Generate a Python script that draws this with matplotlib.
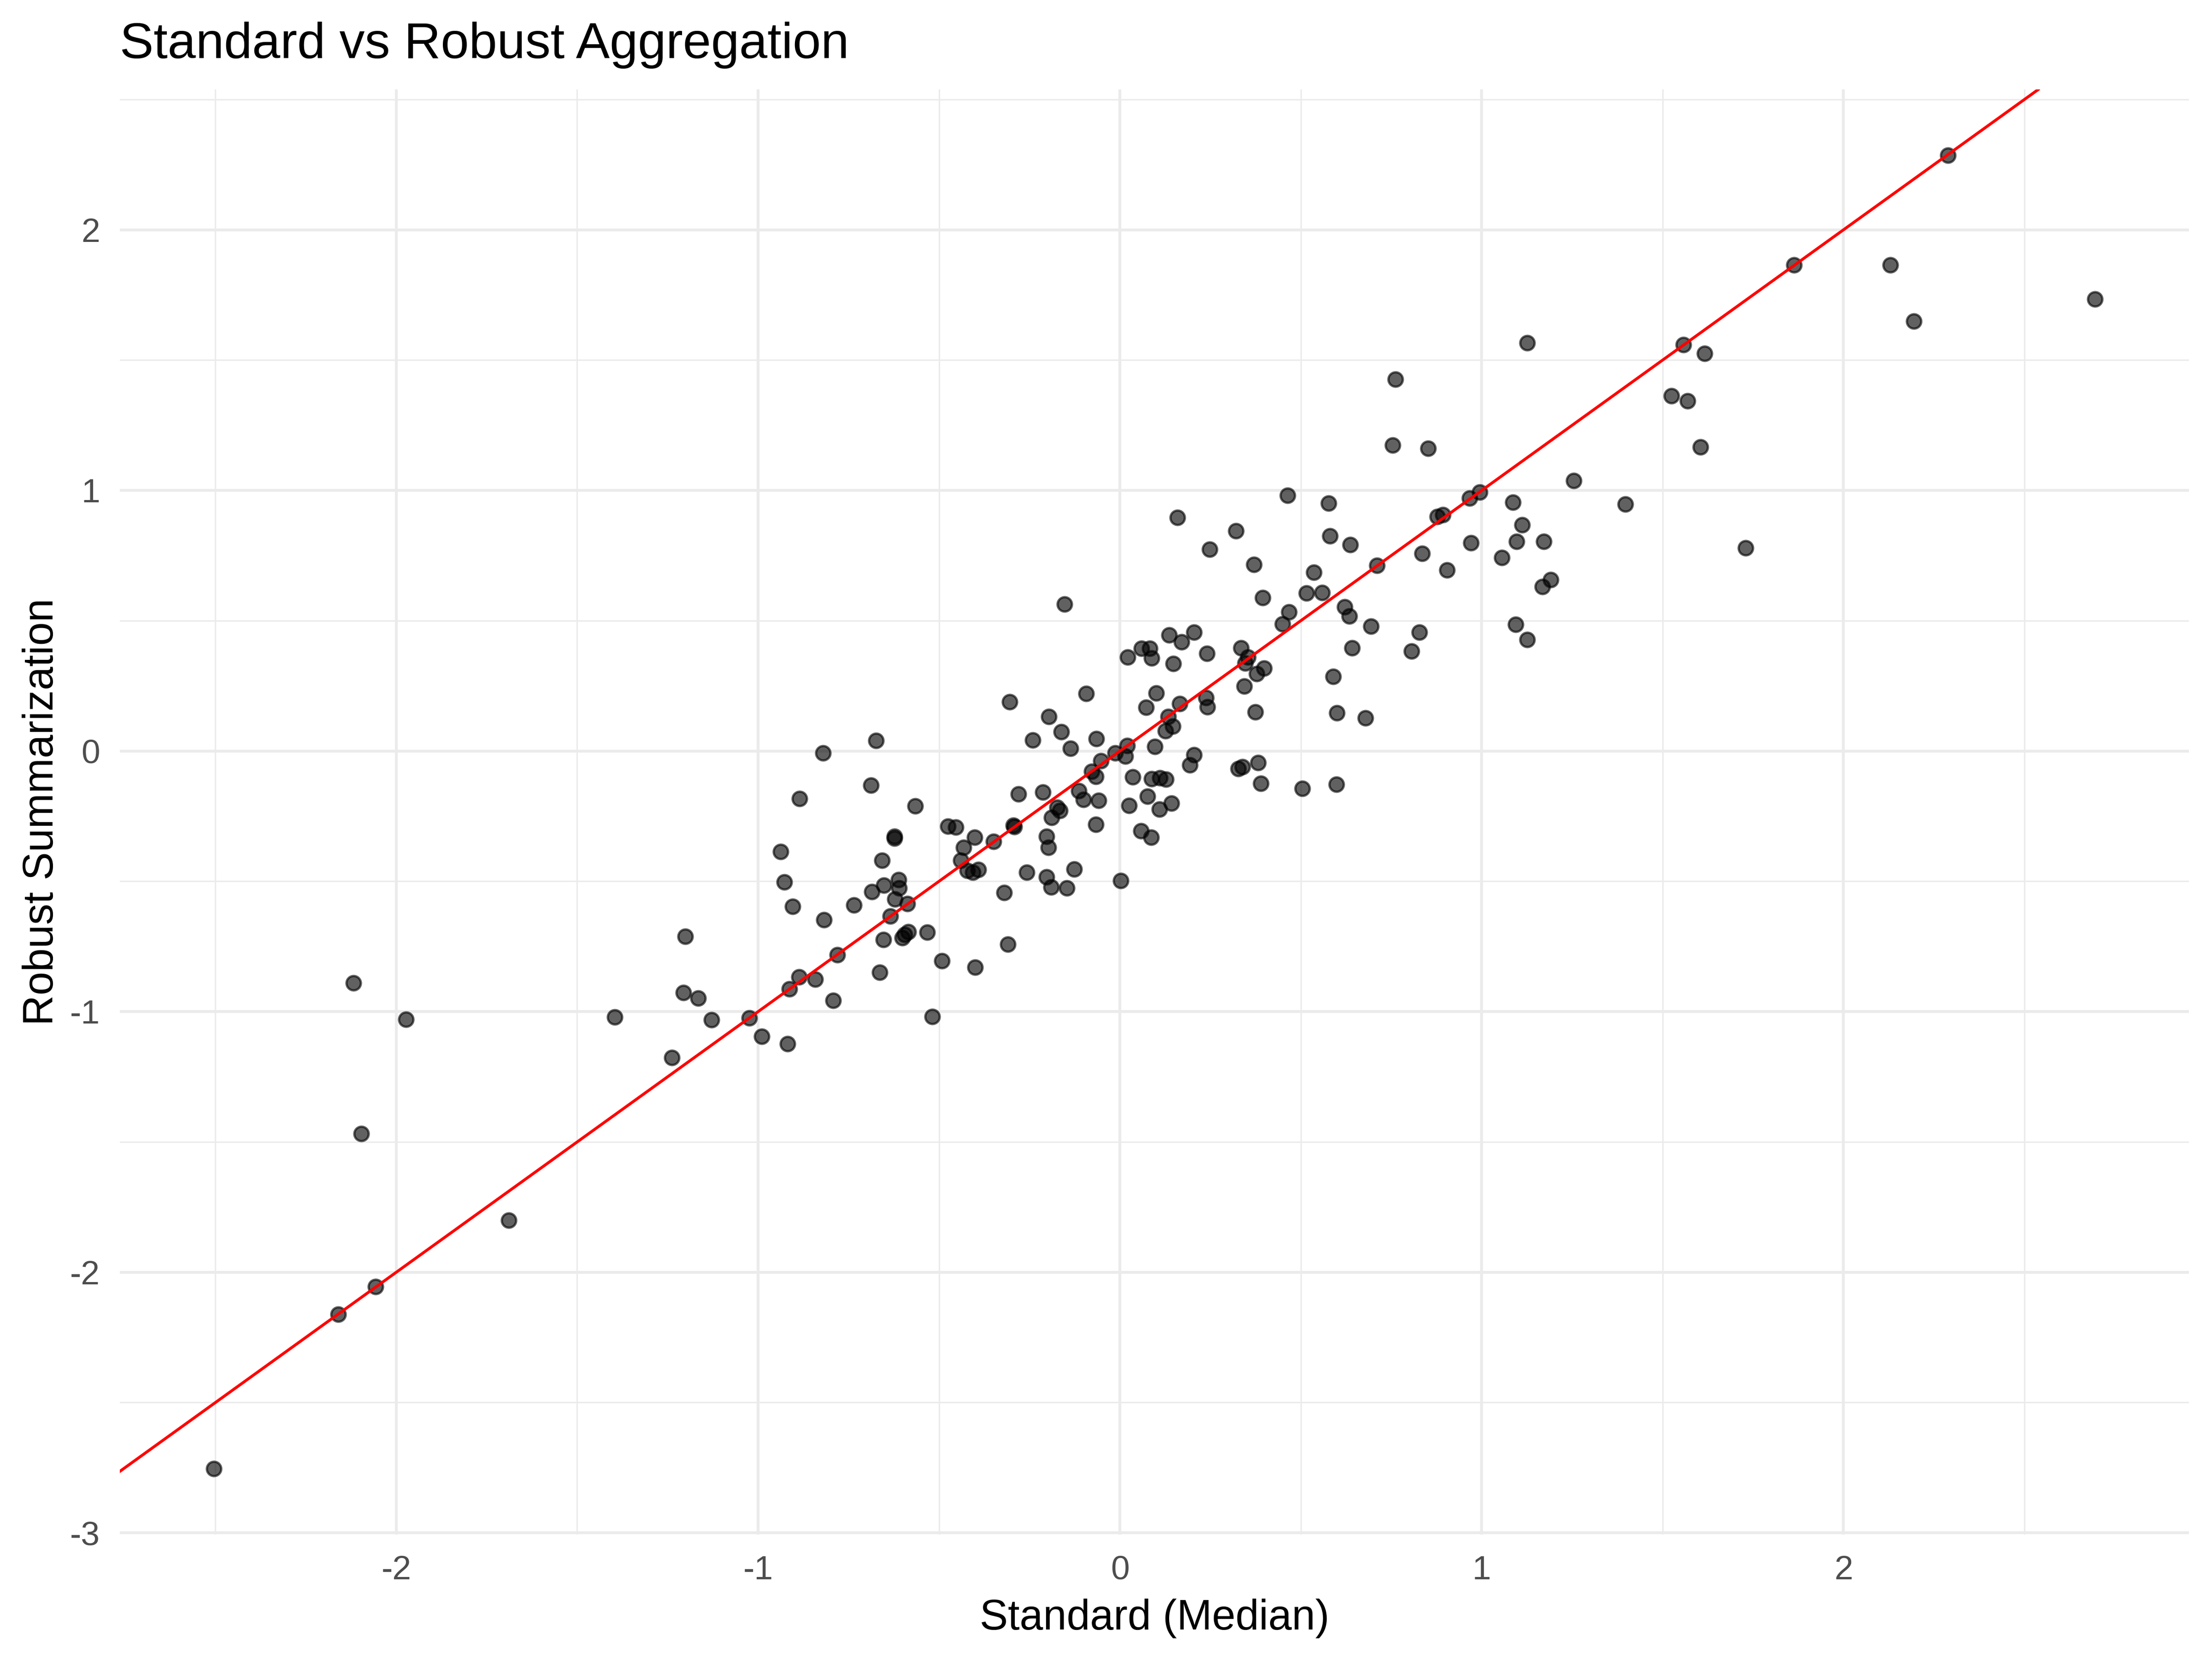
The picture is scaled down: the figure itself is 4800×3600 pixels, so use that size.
import matplotlib
matplotlib.use("Agg")
import matplotlib.pyplot as plt
import numpy as np

# standard (median) vs robust summarization, one entry per feature
standard = [
    # left / lower cluster
    -0.305, -0.674, -0.820, -0.688, -0.885, -0.566, -0.475, -0.454, -0.623, -0.623,
    -0.938, -0.657, -0.402, -0.432, -0.349, -0.295, -0.292, -0.280, -0.439, -0.422,
    -0.407, -0.391, -0.320, -0.927, -0.685, -0.652, -0.612, -0.610, -0.622, -0.588,
    -0.735, -0.905, -0.635, -0.818, -0.585, -0.601, -0.595, -0.532, -0.654, -0.310,
    -0.492, -0.400, -0.664, -1.201, -0.781, -0.887, -0.842, -0.913, -0.793, -1.207,
    -1.165, -1.396, -1.129, -1.024, -0.518, -0.990, -0.919, -1.238,
    # centre cluster
    0.464, 0.577, 0.159, 0.321, 0.248, 0.581, 0.637, 0.371, 0.536, 0.711,
    0.836, 0.904, 0.877, 0.893, 0.966, 0.970, 0.395, 0.516, 0.559, 0.467,
    0.449, 0.622, 0.634, 0.694, 0.828, 0.806, 0.642, 0.590, 0.600, 0.679,
    0.374, -0.153, -0.093, 0.022, 0.060, 0.083, 0.088, 0.136, 0.170, 0.205,
    0.147, 0.241, 0.335, 0.354, 0.346, 0.399, 0.378, 0.344, 0.100, 0.073,
    0.165, 0.238, 0.242, 0.133, 0.146, 0.126, 0.096, 0.020, -0.013, 0.015,
    -0.053, -0.078, -0.067, -0.065, -0.136, -0.162, -0.196, -0.241, -0.213, -0.114,
    -0.101, -0.059, -0.174, -0.166, -0.189, -0.067, -0.203, -0.198, -0.258, -0.203,
    -0.190, -0.147, -0.126, 0.003, 0.036, 0.088, 0.111, 0.127, 0.076, 0.142,
    0.109, 0.025, 0.058, 0.086, 0.205, 0.194, 0.327, 0.338, 0.382, 0.389,
    0.504, 0.598,
    # upper right cluster
    1.126, 1.558, 1.616, 1.524, 1.569, 1.605, 1.255, 0.994, 1.086, 1.397,
    1.112, 1.097, 1.172, 1.056, 1.191, 1.168, 1.730, 1.094, 1.126,
    0.754, 0.762, 0.852,
    # outliers
    1.863, 2.129, 2.195, 2.695, 2.289,
    -2.119, -1.973, -2.097, -1.689, -2.057, -2.160, -2.504,
]
robust = [
    0.188, 0.041, -0.008, -0.132, -0.183, -0.211, -0.289, -0.292, -0.328, -0.335,
    -0.386, -0.419, -0.332, -0.370, -0.348, -0.285, -0.290, -0.165, -0.419, -0.458,
    -0.466, -0.455, -0.544, -0.502, -0.540, -0.515, -0.494, -0.526, -0.569, -0.586,
    -0.591, -0.597, -0.633, -0.647, -0.693, -0.716, -0.705, -0.695, -0.723, -0.742,
    -0.806, -0.830, -0.850, -0.712, -0.782, -0.867, -0.876, -0.913, -0.958, -0.927,
    -0.949, -1.020, -1.032, -1.025, -1.019, -1.096, -1.124, -1.177,
    0.981, 0.950, 0.896, 0.844, 0.774, 0.826, 0.792, 0.716, 0.686, 0.712,
    0.758, 0.694, 0.900, 0.907, 0.970, 0.798, 0.589, 0.606, 0.608, 0.533,
    0.488, 0.553, 0.518, 0.479, 0.456, 0.383, 0.395, 0.286, 0.147, 0.126,
    0.149, 0.563, 0.220, 0.361, 0.394, 0.394, 0.357, 0.445, 0.418, 0.456,
    0.335, 0.374, 0.396, 0.360, 0.337, 0.318, 0.296, 0.248, 0.222, 0.168,
    0.181, 0.205, 0.169, 0.132, 0.095, 0.078, 0.017, 0.021, -0.007, -0.020,
    -0.037, -0.079, -0.097, 0.047, 0.010, 0.074, 0.132, 0.042, -0.158, -0.153,
    -0.186, -0.190, -0.216, -0.229, -0.255, -0.282, -0.328, -0.371, -0.466, -0.483,
    -0.523, -0.526, -0.453, -0.497, -0.099, -0.107, -0.103, -0.108, -0.173, -0.201,
    -0.223, -0.210, -0.306, -0.331, -0.015, -0.054, -0.068, -0.060, -0.044, -0.125,
    -0.144, -0.128,
    1.567, 1.559, 1.526, 1.362, 1.343, 1.166, 1.037, 0.993, 0.955, 0.947,
    0.867, 0.804, 0.804, 0.743, 0.657, 0.630, 0.779, 0.486, 0.428,
    1.173, 1.427, 1.162,
    1.865, 1.865, 1.649, 1.735, 2.286,
    -0.890, -1.029, -1.468, -1.801, -2.056, -2.162, -2.754,
]

x_ticks = [-2, -1, 0, 1, 2]
y_ticks = [-3, -2, -1, 0, 1, 2]

plt.rcParams['font.family'] = ['Liberation Sans', 'DejaVu Sans']
plt.rcParams['axes.unicode_minus'] = False

fig = plt.figure(figsize=(8, 6), dpi=600)
ax = fig.add_axes([0.0542, 0.0751, 0.9896 - 0.0542, 0.946 - 0.0751])

ax.scatter(standard, robust, s=14, facecolor=(0, 0, 0, 0.62),
           edgecolor=(0, 0, 0, 0.62), linewidths=0.6, zorder=2)
ax.axline((0, 0), slope=1, color='red', lw=0.75, zorder=3)

# ggplot style 5% expansion
def expand(v):
    lo, hi = min(v), max(v)
    pad = (hi - lo) * 0.05
    return lo - pad, hi + pad

ax.set_xlim(*expand(standard))
ax.set_ylim(*expand(robust))

ax.set_xticks(x_ticks)
ax.set_yticks(y_ticks)
ax.set_xticks([t + 0.5 for t in [-3] + x_ticks], minor=True)
ax.set_yticks([t + 0.5 for t in y_ticks], minor=True)
ax.grid(which='major', color='#EBEBEB', lw=0.75)
ax.grid(which='minor', color='#EBEBEB', lw=0.38)
ax.set_axisbelow(True)
for s in ax.spines.values():
    s.set_visible(False)
ax.tick_params(which='both', length=0)
ax.tick_params(axis='x', pad=5.4, labelsize=8.8, labelcolor='#4D4D4D')
ax.tick_params(axis='y', pad=5.2, labelsize=8.8, labelcolor='#4D4D4D')

fig.text(0.0542, 0.9651, 'Standard vs Robust Aggregation', fontsize=13.2,
         ha='left', va='baseline')
fig.text(0.5219, 0.0178, 'Standard (Median)', fontsize=11,
         ha='center', va='baseline')
fig.text(0.024, 0.5106, 'Robust Summarization', fontsize=11, rotation=90,
         rotation_mode='anchor', ha='center', va='baseline')

fig.savefig('out.png', dpi=600, facecolor='white')
